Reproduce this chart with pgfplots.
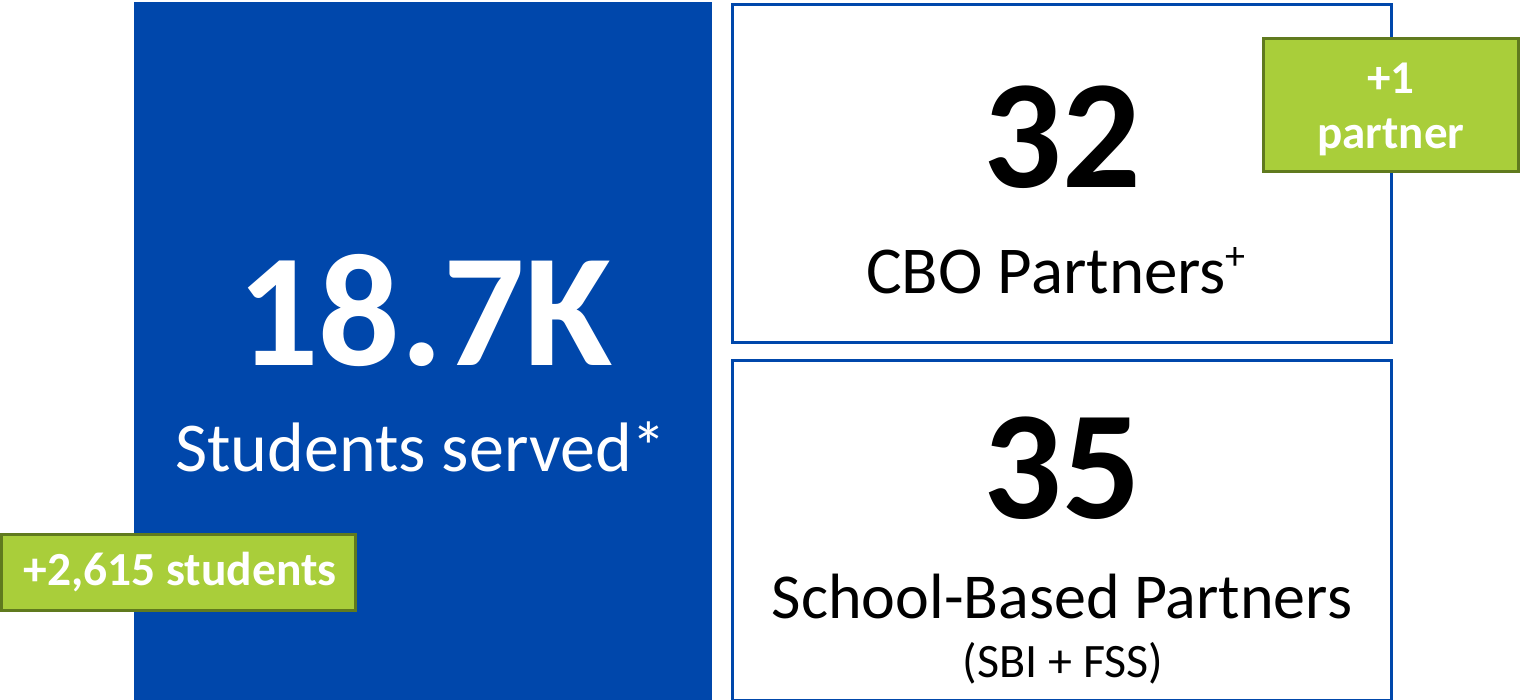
\documentclass[border=0pt]{standalone}
\usepackage{pgfplots}
\pgfplotsset{compat=1.18}
\usepackage{fontspec}
\setmainfont{Carlito}

\definecolor{boxblue}{RGB}{0,71,171}
\definecolor{limefill}{RGB}{169,206,58}
\definecolor{limeedge}{RGB}{96,122,30}

\begin{document}
\begin{tikzpicture}
\begin{axis}[
    width=1521pt, height=699pt, scale only axis,
    xmin=0, xmax=1521, ymin=0, ymax=699, y dir=reverse,
    axis lines=none, clip=true,
    ]
    % students panel
    \addplot[fill=boxblue, draw=none] coordinates {(134,2) (712,2) (712,702) (134,702)} -- cycle;
    % partner panels
    \addplot[draw=boxblue, line width=3pt, fill=white] coordinates {(732.5,4.5) (1391.5,4.5) (1391.5,342.5) (732.5,342.5)} -- cycle;
    \addplot[draw=boxblue, line width=3pt, fill=white] coordinates {(732.5,360.5) (1391.5,360.5) (1391.5,700) (732.5,700)} -- cycle;
    % change badges
    \addplot[draw=limeedge, line width=3pt, fill=limefill] coordinates {(1263.5,38.5) (1518.5,38.5) (1518.5,171.5) (1263.5,171.5)} -- cycle;
    \addplot[draw=limeedge, line width=3pt, fill=limefill] coordinates {(1.5,534.5) (355.5,534.5) (355.5,610.5) (1.5,610.5)} -- cycle;

    \node[anchor=base, inner sep=0, text=white, font=\fontsize{161}{165}\selectfont\bfseries] at (axis cs:425,365) {18.7K};
    \node[anchor=base, inner sep=0, text=white, font=\fontsize{70}{72}\selectfont] at (axis cs:421,471) {Students served*};

    \node[anchor=base, inner sep=0, font=\fontsize{155}{160}\selectfont\bfseries] at (axis cs:1062,187) {32};
    \node[anchor=base, inner sep=0, font=\fontsize{67}{70}\selectfont] at (axis cs:1056,293) {CBO Partners\raisebox{24pt}{\fontsize{40}{40}\selectfont +}};

    \node[anchor=base, inner sep=0, font=\fontsize{155}{160}\selectfont\bfseries] at (axis cs:1062,518) {35};
    \node[anchor=base, inner sep=0, font=\fontsize{64}{66}\selectfont] at (axis cs:1062,618) {School-Based Partners};
    \node[anchor=base, inner sep=0, font=\fontsize{48}{50}\selectfont] at (axis cs:1063,677) {(SBI + FSS)};

    \node[anchor=base, inner sep=0, text=white, font=\fontsize{47}{49}\selectfont\bfseries] at (axis cs:1391,93) {+1};
    \node[anchor=base, inner sep=0, text=white, font=\fontsize{47}{49}\selectfont\bfseries] at (axis cs:1391,148) {partner};
    \node[anchor=base, inner sep=0, text=white, font=\fontsize{47.5}{49}\selectfont\bfseries] at (axis cs:180,585) {+2,615 students};

    \coordinate (sw) at (axis cs:0,699);
    \coordinate (ne) at (axis cs:1521,0);
\end{axis}
\pgfresetboundingbox
\path[use as bounding box] (sw) rectangle (ne);
\end{tikzpicture}
\end{document}
